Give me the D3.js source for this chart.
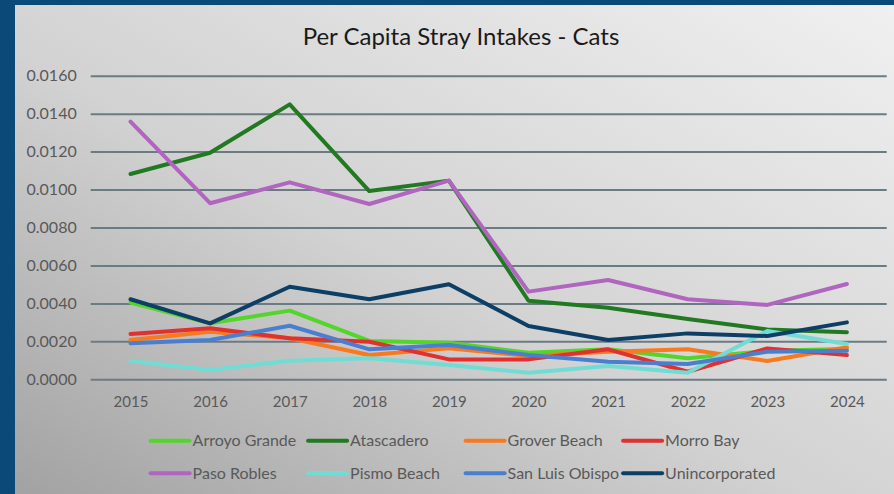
<!DOCTYPE html>
<html>
<head>
<meta charset="utf-8">
<script src="https://cdn.jsdelivr.net/npm/d3@7"></script>
<style>
  html, body { margin: 0; padding: 0; background: #0b4a78; }
  svg { display: block; }
  text { font-family: Lato, "Open Sans", "Liberation Sans", sans-serif; }
</style>
</head>
<body>
<svg id="chart" width="894" height="494"></svg>
<script>
// ---- data ----
const years = ["2015","2016","2017","2018","2019","2020","2021","2022","2023","2024"];
const seriesNames = ["Arroyo Grande","Atascadero","Grover Beach","Morro Bay","Paso Robles","Pismo Beach","San Luis Obispo","Unincorporated"];
const arroyoGrande  = [0.00404,0.00295,0.00362,0.00202,0.00193,0.00140,0.00158,0.00111,0.00150,0.00160];
const atascadero    = [0.01082,0.01194,0.01449,0.00992,0.01047,0.00414,0.00377,0.00318,0.00263,0.00248];
const groverBeach   = [0.00207,0.00251,0.00216,0.00128,0.00163,0.00123,0.00145,0.00158,0.00096,0.00169];
const morroBay      = [0.00239,0.00269,0.00216,0.00198,0.00105,0.00105,0.00158,0.00040,0.00163,0.00128];
const pasoRobles    = [0.01358,0.00928,0.01038,0.00924,0.01047,0.00462,0.00523,0.00422,0.00392,0.00502];
const pismoBeach    = [0.00096,0.00049,0.00098,0.00111,0.00075,0.00035,0.00070,0.00035,0.00255,0.00186];
const sanLuisObispo = [0.00190,0.00207,0.00282,0.00158,0.00181,0.00128,0.00093,0.00081,0.00145,0.00151];
const unincorporated= [0.00422,0.00295,0.00488,0.00422,0.00501,0.00281,0.00207,0.00242,0.00228,0.00300];
const yTicks = [0,0.002,0.004,0.006,0.008,0.010,0.012,0.014,0.016];
const title = "Per Capita Stray Intakes - Cats";

// ---- styles ----
const colors = ["#52d62a","#217a21","#f97a1e","#e0302f","#b065be","#70ddd4","#4a7fd0","#0d3f66"];

const seriesValues = [arroyoGrande, atascadero, groverBeach, morroBay, pasoRobles, pismoBeach, sanLuisObispo, unincorporated];
const series = seriesNames.map((name, i) => ({name, color: colors[i], values: seriesValues[i]}));

const svg = d3.select("#chart");

// background gradient
const defs = svg.append("defs");
const grad = defs.append("linearGradient").attr("id","bg")
  .attr("x1","0").attr("y1","1").attr("x2","1").attr("y2","0");
grad.append("stop").attr("offset","0").attr("stop-color","#a2a2a2");
grad.append("stop").attr("offset","0.45").attr("stop-color","#d2d2d2");
grad.append("stop").attr("offset","1").attr("stop-color","#f0f0f0");

svg.append("rect").attr("width",894).attr("height",494).attr("fill","#0b4a78");
svg.append("rect").attr("x",15).attr("y",5).attr("width",879).attr("height",489).attr("fill","url(#bg)");

const plotLeft = 90.7, plotRight = 886.7, plotTop = 75.7, plotBottom = 379.3;

const x = d3.scalePoint().domain(years).range([plotLeft, plotRight]).padding(0.5);
const y = d3.scaleLinear().domain([0, 0.016]).range([plotBottom, plotTop]);

// gridlines + y labels
const yAxis = svg.append("g")
  .attr("transform", `translate(${plotLeft},0)`)
  .call(d3.axisLeft(y).tickValues(yTicks).tickFormat(d3.format(".4f"))
        .tickSize(-(plotRight-plotLeft)).tickPadding(14));
yAxis.select(".domain").remove();
yAxis.selectAll(".tick line").attr("stroke","#6b7b83").attr("stroke-width",2);
yAxis.selectAll(".tick text").attr("fill","#595959").attr("font-size","16px").attr("dy","0.3em");

// x labels
const xAxis = svg.append("g")
  .attr("transform", `translate(0,${plotBottom})`)
  .call(d3.axisBottom(x).tickSize(0).tickPadding(17));
xAxis.select(".domain").remove();
xAxis.selectAll(".tick text").attr("fill","#595959").attr("font-size","15px");

// lines
const line = d3.line().x((d,i) => x(years[i])).y(d => y(d));
svg.append("g").selectAll("path").data(series).join("path")
  .attr("d", d => line(d.values))
  .attr("fill","none")
  .attr("stroke", d => d.color)
  .attr("stroke-width", 4)
  .attr("stroke-linejoin","round")
  .attr("stroke-linecap","round");

// title
svg.append("text").attr("x",461).attr("y",45).attr("text-anchor","middle")
  .attr("font-size","24px").attr("fill","#1a1a1a").text(title);

// legend
const legend = svg.append("g").selectAll("g").data(series).join("g")
  .attr("transform", (d,i) => `translate(${150.6 + (i%4)*157.5},${i<4 ? 440.7 : 473.3})`);
legend.append("line").attr("x1",0).attr("x2",39).attr("y1",0).attr("y2",0)
  .attr("stroke", d => d.color).attr("stroke-width",4).attr("stroke-linecap","round");
legend.append("text").attr("x",42).attr("y",0).attr("dy","0.36em")
  .attr("font-size","16px").attr("fill","#595959").text(d => d.name);
</script>
</body>
</html>
